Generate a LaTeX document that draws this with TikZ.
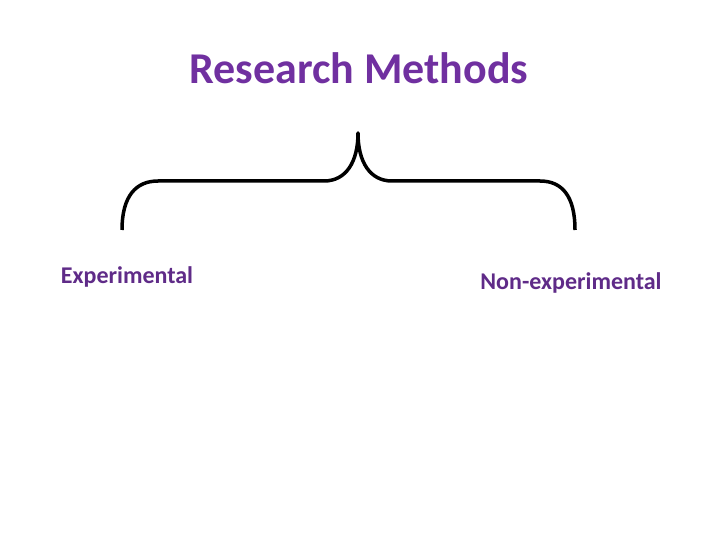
\documentclass[tikz,border=0pt]{standalone}
\usepackage{fontspec}
\setmainfont{Carlito}
\definecolor{titlepurple}{HTML}{7030A0}
\definecolor{labelpurple}{HTML}{5F2B88}
\begin{document}
\begin{tikzpicture}[x=1pt,y=-1pt,
  titletext/.style={font=\fontsize{44}{48}\selectfont\bfseries, text=titlepurple, inner sep=0pt},
  labeltext/.style={font=\fontsize{24}{28}\selectfont\bfseries, text=labelpurple, inner sep=0pt},
  bracestroke/.style={line width=3.5pt, line cap=butt, line join=round}]
\useasboundingbox[fill=white] (0,0) rectangle (720,540);
\node[titletext] (title) at (359,68) {Research Methods};
\coordinate (lend) at (122,230);
\coordinate (tip) at (358,133);
\coordinate (rend) at (575,230);
\draw[bracestroke] (lend) .. controls (122,196) and (136,181) .. (158,181)
  -- (324,181) .. controls (346,181) and (358,162) .. (tip)
  .. controls (358,162) and (370,181) .. (392,181)
  -- (540,181) .. controls (562,181) and (575,196) .. (rend);
\node[labeltext] (exp) at (127,277) {Experimental};
\node[labeltext] (nonexp) at (571,283) {Non-experimental};
\end{tikzpicture}
\end{document}
